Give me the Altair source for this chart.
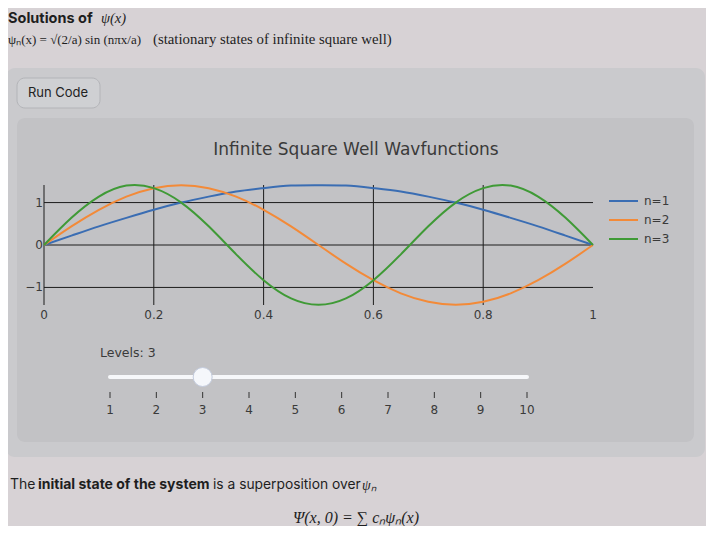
import altair as alt
import pandas as pd

# ---------------- data ----------------
x_vals = [0.0, 0.05, 0.1, 0.15, 0.2, 0.25, 0.3, 0.35, 0.4, 0.45, 0.5,
          0.55, 0.6, 0.65, 0.7, 0.75, 0.8, 0.85, 0.9, 0.95, 1.0]
psi_1 = [0, 0.22, 0.44, 0.64, 0.83, 1.00, 1.14, 1.26, 1.34, 1.40, 1.41,
         1.40, 1.34, 1.26, 1.14, 1.00, 0.83, 0.64, 0.44, 0.22, 0]
psi_2 = [0, 0.44, 0.83, 1.14, 1.34, 1.41, 1.34, 1.14, 0.83, 0.44, 0,
         -0.44, -0.83, -1.14, -1.34, -1.41, -1.34, -1.14, -0.83, -0.44, 0]
psi_3 = [0, 0.64, 1.14, 1.40, 1.34, 1.00, 0.44, -0.22, -0.83, -1.26, -1.41,
         -1.26, -0.83, -0.22, 0.44, 1.00, 1.34, 1.40, 1.14, 0.64, 0]
series_names = ["n=1", "n=2", "n=3"]
series_colors = ["#3a6db3", "#f38a38", "#3f9a36"]

x_ticks = [0, 0.2, 0.4, 0.6, 0.8, 1]
x_tick_labels = ["0", "0.2", "0.4", "0.6", "0.8", "1"]
x_grid = [0, 0.2, 0.4, 0.6, 0.8]
y_ticks = [-1, 0, 1]
y_tick_labels = ["\u22121", "0", "1"]
y_domain = [-1.4142, 1.4142]

slider_levels = [1, 2, 3, 4, 5, 6, 7, 8, 9, 10]
slider_labels = ["1", "2", "3", "4", "5", "6", "7", "8", "9", "10"]
current_level = 3

title_text = "Infinite Square Well Wavfunctions"

# ---------------- tables ----------------
rows = []
for name, ys in zip(series_names, [psi_1, psi_2, psi_3]):
    for xv, yv in zip(x_vals, ys):
        rows.append({"x": xv, "psi": yv, "series": name})
waves = pd.DataFrame(rows)
legend_df = pd.DataFrame({"series": series_names, "row": list(range(len(series_names)))})
xt_df = pd.DataFrame({"v": x_ticks, "label": x_tick_labels})
yt_df = pd.DataFrame({"v": y_ticks, "label": y_tick_labels})
xg_df = pd.DataFrame({"v": x_grid})
sl_df = pd.DataFrame({"level": slider_levels, "label": slider_labels})
track_df = pd.DataFrame({"lo": [slider_levels[0]], "hi": [slider_levels[-1]]})
knob_df = pd.DataFrame({"level": [current_level]})
one = pd.DataFrame({"k": [0]})

W, H = 549, 120
PAD = {"left": 36, "top": 177, "right": 113, "bottom": 221}

SANS = "DejaVu Sans"
UI = "Inter"
SERIF = "Liberation Serif"
TXT = "#3a3a3a"
INK = "#1e1e1e"

xs = alt.Scale(domain=[0, 1], nice=False, zero=False)
ys_ = alt.Scale(domain=y_domain, nice=False, zero=False)
cs = alt.Scale(domain=series_names, range=series_colors)
ss = alt.Scale(domain=[slider_levels[0], slider_levels[-1]], range=[66, 483], nice=False, zero=False)


def box(x0, x1, y0, y1, fill, stroke=None, r=8):
    kw = dict(fill=fill, cornerRadius=r)
    if stroke:
        kw.update(stroke=stroke, strokeWidth=1)
    return alt.Chart(one).mark_rect(**kw).encode(
        x=alt.value(x0), x2=alt.value(x1), y=alt.value(y0), y2=alt.value(y1))


def txt(s, x, y, size, color=TXT, font=SANS, weight="normal", align="left", style="normal"):
    return alt.Chart(one).mark_text(
        text=s, align=align, baseline="middle", fontSize=size, font=font,
        fontWeight=weight, fontStyle=style, color=color).encode(
        x=alt.value(x), y=alt.value(y))


layers = []
# panels
layers.append(box(-38, 661, -117, 272, "#cacacd", r=9))
layers.append(box(-27, 650, -67, 257, "#c2c2c5", r=8))
layers.append(box(-27, 56, -107, -77, "#cfd0d3", stroke="#b3b4b8", r=8))
layers.append(txt("Run Code", 14, -92, 13, color="#222222", font=UI, align="center"))

# header text
layers.append(txt("Solutions of", -36, -166, 14.5, color=INK, font=UI, weight="bold"))
layers.append(txt("\u03c8(x)", 57, -166, 14.5, color=INK, font=SERIF, style="italic"))
layers.append(txt("\u03c8\u2099(x) = \u221a(2/a) sin (n\u03c0x/a)", -36, -145, 13, color=INK, font=SERIF))
layers.append(txt("(stationary states of infinite square well)", 109, -145, 14.8, color=INK, font=SERIF))

# title
layers.append(txt(title_text, 312, -35, 17, align="center"))

# grid
layers.append(alt.Chart(xg_df).mark_rule(color="#1c1c1c", strokeWidth=1).encode(
    x=alt.X("v:Q", scale=xs, axis=None), y=alt.value(0), y2=alt.value(H)))
layers.append(alt.Chart(yt_df).mark_rule(color="#1c1c1c", strokeWidth=1).encode(
    y=alt.Y("v:Q", scale=ys_, axis=None), x=alt.value(0), x2=alt.value(W)))

# curves
layers.append(alt.Chart(waves).mark_line(strokeWidth=2, interpolate="natural").encode(
    x=alt.X("x:Q", scale=xs, axis=None),
    y=alt.Y("psi:Q", scale=ys_, axis=None),
    color=alt.Color("series:N", scale=cs, legend=None)))

# tick labels
layers.append(alt.Chart(xt_df).mark_text(fontSize=12, font=SANS, color=TXT, baseline="middle").encode(
    x=alt.X("v:Q", scale=xs, axis=None), y=alt.value(130), text="label:N"))
layers.append(alt.Chart(yt_df).mark_text(fontSize=12, font=SANS, color=TXT, baseline="middle", align="right").encode(
    y=alt.Y("v:Q", scale=ys_, axis=None), x=alt.value(-1), text="label:N"))

# legend
ly = alt.Scale(domain=[0, len(series_names) - 1], range=[16, 54], nice=False, zero=False)
layers.append(alt.Chart(legend_df).mark_rule(strokeWidth=2).encode(
    x=alt.value(565), x2=alt.value(594),
    y=alt.Y("row:Q", scale=ly, axis=None),
    color=alt.Color("series:N", scale=cs, legend=None)))
layers.append(alt.Chart(legend_df).mark_text(fontSize=12, font=SANS, color=TXT, align="left", baseline="middle").encode(
    x=alt.value(600), y=alt.Y("row:Q", scale=ly, axis=None), text="series:N"))

# slider
layers.append(txt(f"Levels: {current_level}", 56, 168, 12.5))
layers.append(alt.Chart(track_df).mark_rule(color="#f6f7fa", strokeWidth=4, strokeCap="round").encode(
    x=alt.X("lo:Q", scale=ss, axis=None), x2="hi:Q", y=alt.value(192)))
layers.append(alt.Chart(sl_df).mark_rule(color="#333333", strokeWidth=1).encode(
    x=alt.X("level:Q", scale=ss, axis=None), y=alt.value(207), y2=alt.value(213)))
layers.append(alt.Chart(sl_df).mark_text(fontSize=12, font=SANS, color=TXT, baseline="middle").encode(
    x=alt.X("level:Q", scale=ss, axis=None), y=alt.value(225), text="label:N"))
layers.append(alt.Chart(knob_df).mark_circle(size=361, color="#f5f7fb", opacity=1, stroke="#c3cbdd", strokeWidth=1).encode(
    x=alt.X("level:Q", scale=ss, axis=None), y=alt.value(192)))

# bottom text
layers.append(txt("The", -34, 300, 14, color=INK, font=UI))
layers.append(txt("initial state of the system", -6, 300, 14, color=INK, font=UI, weight="bold"))
layers.append(txt("is a superposition over", 169, 300, 13.8, color=INK, font=UI))
layers.append(txt("\u03c8\u2099", 318, 301, 14, color=INK, font=SERIF, style="italic"))
layers.append(txt("\u03a8(x, 0) = \u2211 c\u2099\u03c8\u2099(x)", 312, 333, 16, color=INK, font=SERIF, align="center", style="italic"))

chart = alt.layer(*layers).resolve_scale(x="independent", y="independent").properties(
    width=W, height=H, padding=PAD,
    autosize=alt.AutoSizeParams(type="none"),
    background="#d7d2d5",
).configure_view(stroke=None)

chart.save("out.html", embed_options={"renderer": "svg", "actions": False})
